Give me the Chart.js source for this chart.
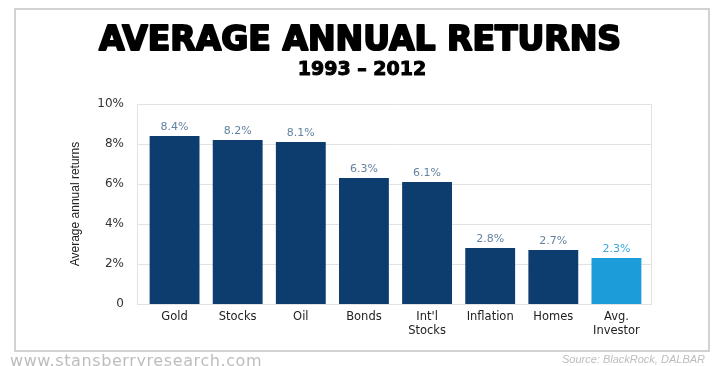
<!DOCTYPE html>
<html>
<head>
<meta charset="utf-8">
<script src="https://cdn.jsdelivr.net/npm/chart.js@4"></script>
<style>
  html, body { margin: 0; padding: 0; background: #ffffff; }
  #wrap { width: 714px; height: 366px; }
</style>
</head>
<body>
<div id="wrap"><canvas id="mychart" width="714" height="366"></canvas></div>
<script>
// 類別 / 數值
var categories = ['Gold', 'Stocks', 'Oil', 'Bonds', ["Int'l", 'Stocks'], 'Inflation', 'Homes', ['Avg.', 'Investor']]
var returns = [8.4, 8.2, 8.1, 6.3, 6.1, 2.8, 2.7, 2.3]
var yTicks = [0, 2, 4, 6, 8, 10]
var titleText = 'AVERAGE ANNUAL RETURNS'
var subtitleText = '1993 \u2013 2012'
var yTitle = 'Average annual returns'
var siteText = 'www.stansberryresearch.com'
var sourceText = 'Source: BlackRock, DALBAR'

var dark = '#0d3d6f'
var light = '#1c9cd8'
var barColors = returns.map((v, i) => i === returns.length - 1 ? light : dark)
var labelColors = returns.map((v, i) => i === returns.length - 1 ? '#3aa6dc' : '#6483a0')

// 外框、標題、數值標籤
var decor = {
    id: 'decor',
    beforeDraw(chart) {
        var c = chart.ctx
        var a = chart.chartArea
        var y = chart.scales.y
        c.save()
        // 外框
        c.strokeStyle = '#d2d2d2'
        c.lineWidth = 2
        c.strokeRect(15, 9, 694, 342)
        // 格線
        c.strokeStyle = '#e2e2e2'
        c.lineWidth = 1
        yTicks.forEach(t => {
            var py = Math.round(y.getPixelForValue(t)) + 0.5
            c.beginPath()
            c.moveTo(a.left - 6, py)
            c.lineTo(a.right + 4, py)
            c.stroke()
        })
        c.beginPath()
        c.moveTo(a.left - 5.5, a.top)
        c.lineTo(a.left - 5.5, a.bottom + 1)
        c.moveTo(a.right + 3.5, a.top)
        c.lineTo(a.right + 3.5, a.bottom + 1)
        c.stroke()
        // 標題 (加粗)
        c.fillStyle = '#000'
        c.strokeStyle = '#000'
        c.lineJoin = 'round'
        c.textAlign = 'center'
        c.textBaseline = 'alphabetic'
        c.font = 'bold 33px "DejaVu Sans"'
        c.lineWidth = 2
        c.strokeText(titleText, 360, 50)
        c.fillText(titleText, 360, 50)
        c.font = 'bold 19px "DejaVu Sans"'
        c.lineWidth = 1
        c.strokeText(subtitleText, 362, 75)
        c.fillText(subtitleText, 362, 75)
        // 頁尾
        c.fillStyle = '#bdbdbd'
        c.textAlign = 'left'
        c.font = '16px "DejaVu Sans"'
        c.letterSpacing = '0.6px'
        c.fillText(siteText, 10, 366)
        c.letterSpacing = '0px'
        c.textAlign = 'right'
        c.font = 'italic 11px "Liberation Sans"'
        c.fillText(sourceText, 705, 363)
        c.restore()
    },
    afterDatasetsDraw(chart) {
        var c = chart.ctx
        var meta = chart.getDatasetMeta(0)
        c.save()
        c.textAlign = 'center'
        c.textBaseline = 'middle'
        c.font = '11px "DejaVu Sans"'
        meta.data.forEach((bar, i) => {
            c.fillStyle = labelColors[i]
            c.fillText(returns[i].toFixed(1) + '%', bar.x, bar.y - 9)
        })
        c.restore()
    }
}

var ctx = document.getElementById('mychart').getContext('2d')
var barchart = new Chart(ctx, {
    type: 'bar',
    data: {
        labels: categories,
        datasets: [{
            data: returns,
            backgroundColor: barColors,
            borderWidth: 0,
            barPercentage: 0.79,
            categoryPercentage: 1
        }]
    },
    options: {
        responsive: false,
        animation: false,
        layout: { padding: { left: 64, right: 66, top: 104, bottom: 0 } },
        plugins: {
            legend: { display: false },
            tooltip: { enabled: false }
        },
        scales: {
            x: {
                grid: { display: false, drawTicks: false },
                border: { display: false },
                ticks: {
                    color: '#222',
                    font: { family: 'DejaVu Sans', size: 11.5 },
                    padding: 6,
                    maxRotation: 0,
                    autoSkip: false
                },
                afterFit(scale) { scale.height = 62 }
            },
            y: {
                min: 0,
                max: 10,
                grid: { display: false, drawTicks: false },
                border: { display: false },
                afterBuildTicks(scale) { scale.ticks = yTicks.map(v => ({ value: v })) },
                ticks: {
                    color: '#333',
                    font: { family: 'DejaVu Sans', size: 12 },
                    padding: 19,
                    callback: v => v === 0 ? '0' : v + '%'
                },
                title: {
                    display: true,
                    text: yTitle,
                    color: '#222',
                    font: { family: 'Liberation Sans Narrow, Liberation Sans', size: 12 },
                    padding: { top: 4, bottom: 0 }
                },
                afterFit(scale) { scale.width = 79 }
            }
        }
    },
    plugins: [decor]
})
</script>
</body>
</html>
